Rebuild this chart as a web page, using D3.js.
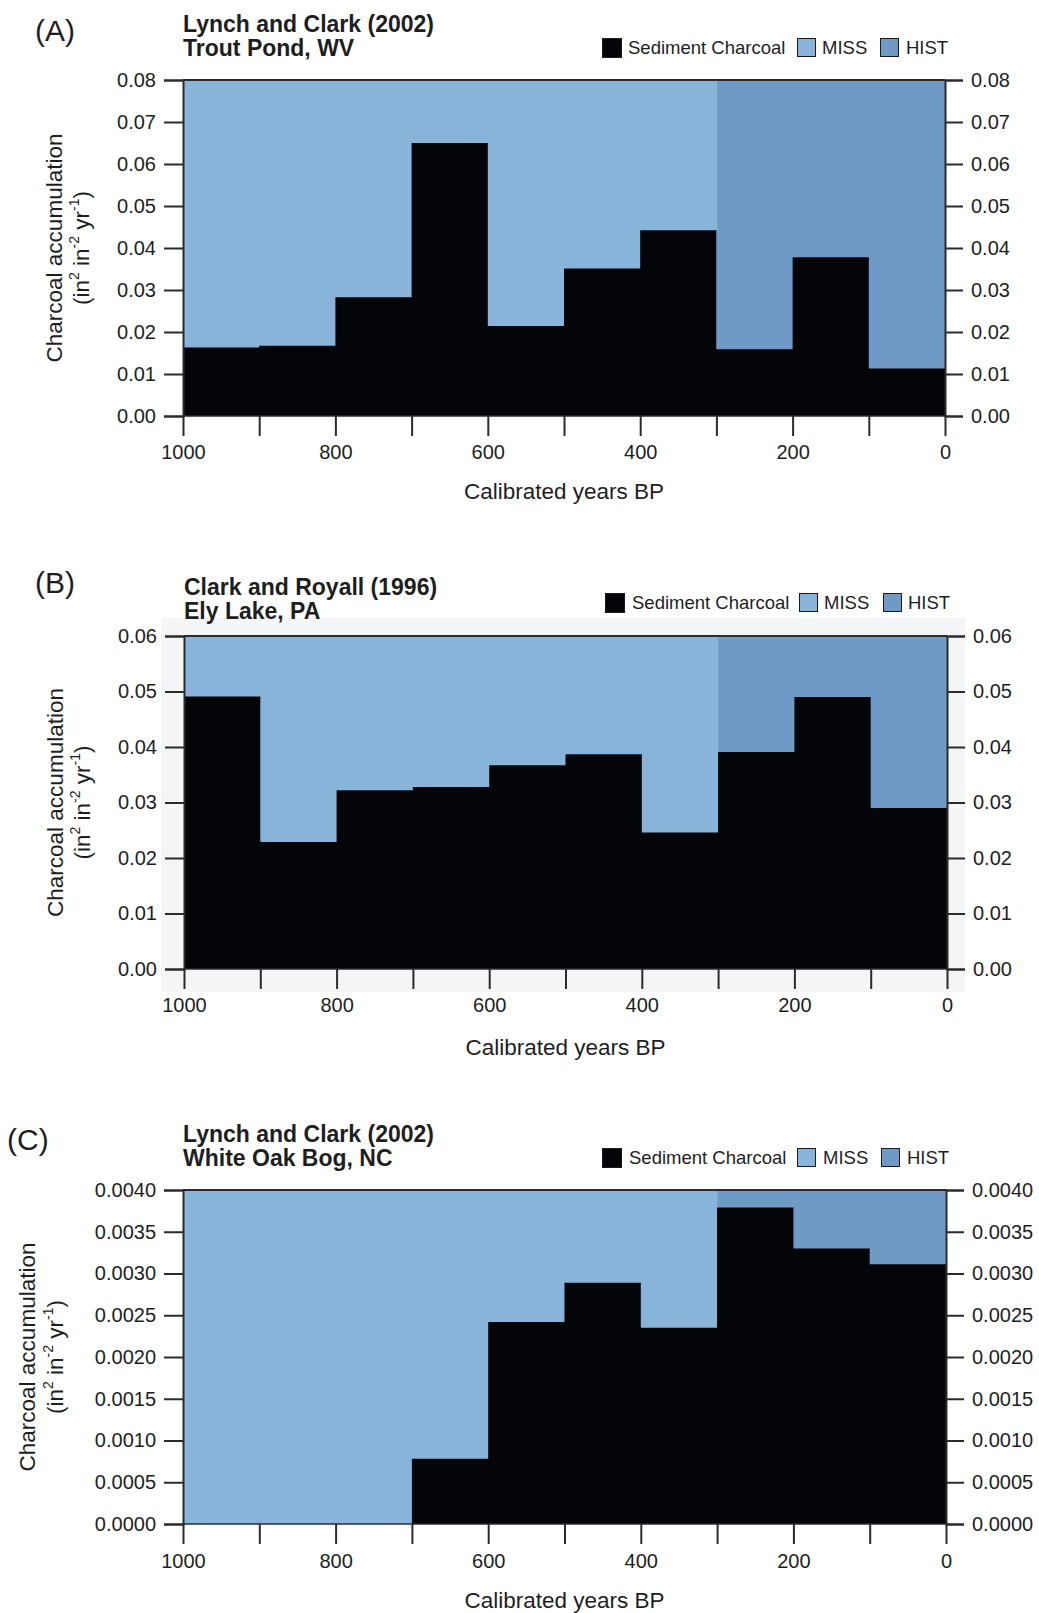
<!DOCTYPE html>
<html>
<head>
<meta charset="utf-8">
<script src="https://cdn.jsdelivr.net/npm/d3@7"></script>
<style>
  html, body { margin: 0; padding: 0; background: #fff; }
  svg { display: block; font-family: "Liberation Sans", Arial, Helvetica, sans-serif; }
</style>
</head>
<body>
<svg id="chart" width="1039" height="1613"></svg>
<script>
// ---------------- DATA ----------------
const binStarts = [1000, 900, 800, 700, 600, 500, 400, 300, 200, 100];
const binEnd = 0;
const histStart = 300;           // HIST period: 300 -> 0 BP, MISS: 1000 -> 300 BP
const xTickValues = [1000, 900, 800, 700, 600, 500, 400, 300, 200, 100, 0];
const xTickLabels = [1000, 800, 600, 400, 200, 0];

const troutPond = [0.0163, 0.0167, 0.0283, 0.0650, 0.0214, 0.0351, 0.0442, 0.0159, 0.0378, 0.0113];
const elyLake   = [0.0491, 0.0229, 0.0322, 0.0328, 0.0367, 0.0387, 0.0246, 0.0391, 0.0490, 0.0290];
const whiteOak  = [0, 0, 0, 0.00078, 0.00242, 0.00289, 0.00235, 0.00379, 0.00330, 0.00311];

const yTicksA = [0, 0.01, 0.02, 0.03, 0.04, 0.05, 0.06, 0.07, 0.08];
const yTicksB = [0, 0.01, 0.02, 0.03, 0.04, 0.05, 0.06];
const yTicksC = [0, 0.0005, 0.0010, 0.0015, 0.0020, 0.0025, 0.0030, 0.0035, 0.0040];

const legendLabels = ["Sediment Charcoal", "MISS", "HIST"];
const xAxisTitle = "Calibrated years BP";

// ---------------- STYLE / LAYOUT ----------------
const COL = { charcoal: "#040508", miss: "#87b4d8", hist: "#6e9ac5", axis: "#2b2b2b", text: "#1e1e1e" };

const panels = [
  { label: "(A)", labelX: 35, labelY: 41, title: ["Lynch and Clark (2002)", "Trout Pond, WV"], titleX: 183, titleY: 32,
    left: 183, right: 945, top: 80, bottom: 416, yMax: 0.08, yTicks: yTicksA, fmt: ".2f", values: troutPond,
    ylab1X: 62, ylab2X: 89, xLabY: 459, xTitleY: 499,
    legend: { y: 38, sq: [602, 797, 880], tx: [628, 822, 906] } },
  { label: "(B)", labelX: 35, labelY: 593, title: ["Clark and Royall (1996)", "Ely Lake, PA"], titleX: 184, titleY: 595,
    left: 184, right: 947, top: 636, bottom: 969, yMax: 0.06, yTicks: yTicksB, fmt: ".2f", values: elyLake,
    ylab1X: 63, ylab2X: 90, xLabY: 1012, xTitleY: 1055, bgBox: true,
    legend: { y: 593, sq: [605, 799, 883], tx: [632, 824, 908] } },
  { label: "(C)", labelX: 7, labelY: 1150, title: ["Lynch and Clark (2002)", "White Oak Bog, NC"], titleX: 183, titleY: 1142,
    left: 183, right: 946, top: 1190, bottom: 1524, yMax: 0.004, yTicks: yTicksC, fmt: ".4f", values: whiteOak,
    ylab1X: 35, ylab2X: 63, xLabY: 1568, xTitleY: 1608,
    legend: { y: 1148, sq: [602, 797, 881], tx: [629, 823, 907] } }
];

const svg = d3.select("#chart");

panels.forEach(p => {
  const g = svg.append("g");

  if (p.bgBox) {
    g.append("rect").attr("x", 161).attr("y", 618).attr("width", 804).attr("height", 374)
      .attr("fill", "#f3f5f7");
  }

  const x = d3.scaleLinear().domain([1000, 0]).range([p.left, p.right]);
  const y = d3.scaleLinear().domain([0, p.yMax]).range([p.bottom, p.top]);

  // background periods
  g.append("rect").attr("x", x(1000)).attr("y", y(p.yMax))
    .attr("width", x(histStart) - x(1000)).attr("height", y(0) - y(p.yMax)).attr("fill", COL.miss);
  g.append("rect").attr("x", x(histStart)).attr("y", y(p.yMax))
    .attr("width", x(0) - x(histStart)).attr("height", y(0) - y(p.yMax)).attr("fill", COL.hist);

  // charcoal step area
  const pts = binStarts.map((yr, i) => ({ yr, v: p.values[i] }));
  pts.push({ yr: binEnd, v: p.values[p.values.length - 1] });
  const area = d3.area().x(d => x(d.yr)).y0(y(0)).y1(d => y(d.v)).curve(d3.curveStepAfter);
  g.append("path").datum(pts).attr("d", area).attr("fill", COL.charcoal);

  // frame lines
  g.append("line").attr("x1", x(1000)).attr("x2", x(0)).attr("y1", y(p.yMax)).attr("y2", y(p.yMax))
    .attr("stroke", COL.axis).attr("stroke-width", 2);
  g.append("line").attr("x1", x(1000)).attr("x2", x(0)).attr("y1", y(0)).attr("y2", y(0))
    .attr("stroke", COL.axis).attr("stroke-width", 1.5);

  // left axis
  const yl = d3.axisLeft(y).tickValues(p.yTicks).tickFormat(d3.format(p.fmt)).tickSize(19).tickPadding(8);
  const gl = g.append("g").attr("transform", `translate(${p.left},0)`).call(yl);
  // right axis
  const yr = d3.axisRight(y).tickValues(p.yTicks).tickFormat(d3.format(p.fmt)).tickSize(18).tickPadding(8);
  const gr = g.append("g").attr("transform", `translate(${p.right},0)`).call(yr);
  // bottom axis
  const xa = d3.axisBottom(x).tickValues(xTickValues)
    .tickFormat(d => xTickLabels.includes(d) ? d : "").tickSize(20).tickPadding(10);
  const gb = g.append("g").attr("transform", `translate(0,${p.bottom})`).call(xa);

  [gl, gr, gb].forEach(ax => {
    ax.select(".domain").attr("stroke", COL.axis).attr("stroke-width", 2);
    ax.selectAll(".tick line").attr("stroke", COL.axis).attr("stroke-width", 2);
    ax.selectAll(".tick text").attr("fill", COL.text).attr("font-size", 20)
      .attr("font-family", "Liberation Sans, Arial, sans-serif");
  });
  gb.select(".domain").remove();
  gb.selectAll(".tick text").attr("dy", null).attr("y", null)
    .attr("transform", null).each(function () {
      d3.select(this).attr("y", p.xLabY - p.bottom);
    });

  // panel label & title
  g.append("text").attr("x", p.labelX).attr("y", p.labelY).attr("font-size", 30)
    .attr("fill", COL.text).text(p.label);
  p.title.forEach((t, i) => {
    g.append("text").attr("x", p.titleX).attr("y", p.titleY + i * 23.5).attr("font-size", 23)
      .attr("font-weight", "bold").attr("fill", COL.text).text(t);
  });

  // legend
  const lcols = [COL.charcoal, COL.miss, COL.hist];
  legendLabels.forEach((lab, i) => {
    const sz = i === 0 ? 20 : 19;
    g.append("rect").attr("x", p.legend.sq[i] + 0.5).attr("y", p.legend.y + 0.5)
      .attr("width", sz - 1).attr("height", sz - 1).attr("fill", lcols[i])
      .attr("stroke", "#1a1a1a").attr("stroke-width", 1);
    g.append("text").attr("x", p.legend.tx[i]).attr("y", p.legend.y + 16).attr("font-size", 18.5)
      .attr("fill", COL.text).text(lab);
  });

  // x axis title
  g.append("text").attr("x", (p.left + p.right) / 2).attr("y", p.xTitleY)
    .attr("text-anchor", "middle").attr("font-size", 22.5).attr("fill", COL.text).text(xAxisTitle);

  // y axis title (two lines)
  const cy = (p.top + p.bottom) / 2;
  g.append("text").attr("transform", `translate(${p.ylab1X},${cy}) rotate(-90)`)
    .attr("text-anchor", "middle").attr("font-size", 22.5).attr("fill", COL.text)
    .text("Charcoal accumulation");
  const t2 = g.append("text").attr("transform", `translate(${p.ylab2X},${cy}) rotate(-90)`)
    .attr("text-anchor", "middle").attr("font-size", 22.5).attr("fill", COL.text);
  const parts = [["(in", 0], ["2", 1], [" in", 0], ["-2", 1], [" yr", 0], ["-1", 1], [")", 0]];
  parts.forEach(([s, sup]) => {
    t2.append("tspan").attr("font-size", sup ? 14 : 22.5)
      .attr("baseline-shift", sup ? "70%" : null).text(s);
  });
});
</script>
</body>
</html>
